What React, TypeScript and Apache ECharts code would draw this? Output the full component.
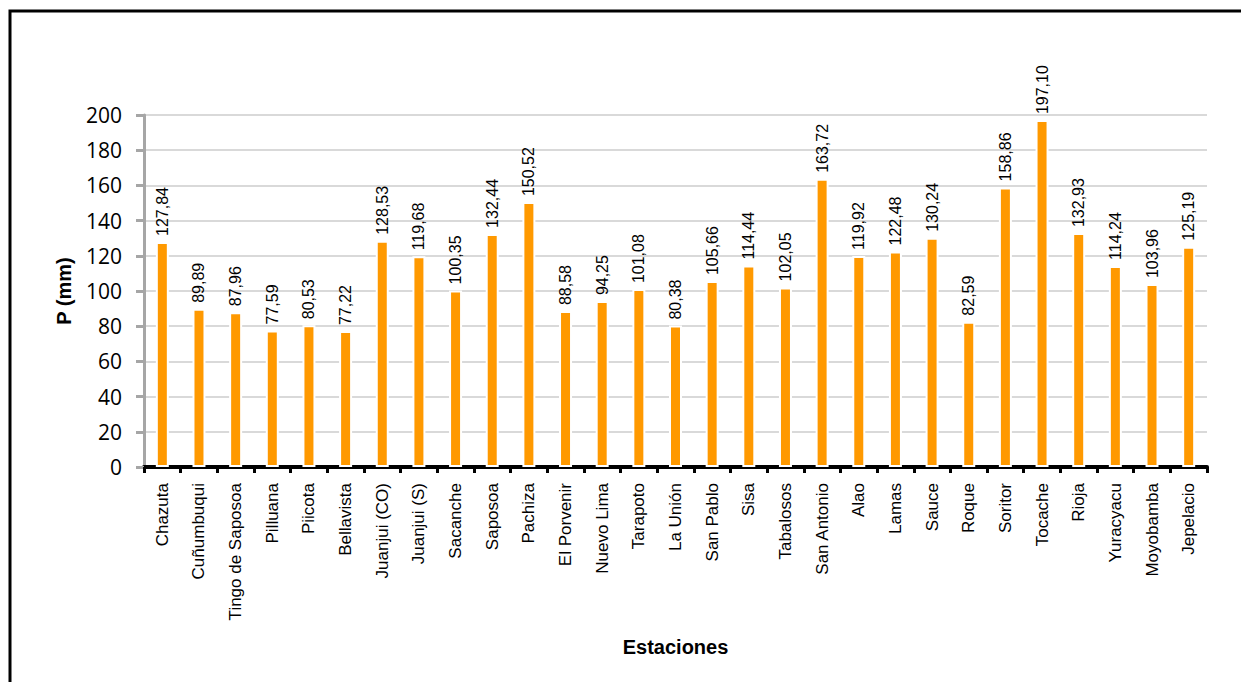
import React, { useEffect, useRef } from "react";
import * as echarts from "echarts";

const stations: string[] = [
  "Chazuta", "Cuñumbuqui", "Tingo de Saposoa", "Pilluana", "Piicota", "Bellavista",
  "Juanjui (CO)", "Juanjui (S)", "Sacanche", "Saposoa", "Pachiza", "El Porvenir",
  "Nuevo Lima", "Tarapoto", "La Unión", "San Pablo", "Sisa", "Tabalosos",
  "San Antonio", "Alao", "Lamas", "Sauce", "Roque", "Soritor", "Tocache",
  "Rioja", "Yuracyacu", "Moyobamba", "Jepelacio",
];

const precipitation: number[] = [
  127.84, 89.89, 87.96, 77.59, 80.53, 77.22,
  128.53, 119.68, 100.35, 132.44, 150.52, 88.58,
  94.25, 101.08, 80.38, 105.66, 114.44, 102.05,
  163.72, 119.92, 122.48, 130.24, 82.59, 158.86, 197.1,
  132.93, 114.24, 103.96, 125.19,
];

const yMin = 0;
const yMax = 200;
const yInterval = 20;

const ARIAL = "'Liberation Sans', Arial, sans-serif";

export default function App() {
  const ref = useRef<HTMLDivElement>(null);

  useEffect(() => {
    if (!ref.current) return;
    const chart = echarts.init(ref.current, undefined, { renderer: "svg" });
    chart.setOption({
      animation: false,
      backgroundColor: "#ffffff",
      graphic: [
        {
          type: "rect",
          shape: { x: 10, y: 11, width: 1400, height: 900 },
          style: { fill: "none", stroke: "#000000", lineWidth: 3 },
          silent: true,
        },
      ],
      grid: { left: 144, right: 34, top: 115, bottom: 215, containLabel: false },
      xAxis: {
        type: "category",
        data: stations,
        name: "Estaciones",
        nameLocation: "middle",
        nameGap: 170,
        nameTextStyle: {
          fontFamily: ARIAL,
          fontWeight: "bold",
          fontSize: 20,
          color: "#000",
        },
        axisLine: { show: true, lineStyle: { color: "#000", width: 4 } },
        axisTick: { show: true, length: 6, lineStyle: { color: "#000", width: 3 } },
        axisLabel: {
          rotate: 90,
          interval: 0,
          margin: 16,
          fontFamily: ARIAL,
          fontSize: 17,
          color: "#000",
        },
        splitLine: { show: false },
      },
      yAxis: {
        type: "value",
        min: yMin,
        max: yMax,
        interval: yInterval,
        name: "P (mm)",
        nameLocation: "middle",
        nameGap: 70,
        nameTextStyle: {
          fontFamily: ARIAL,
          fontWeight: "bold",
          fontSize: 20,
          color: "#000",
        },
        axisLine: { show: true, lineStyle: { color: "#A6A6A6", width: 3 } },
        axisTick: { show: true, length: 8, lineStyle: { color: "#A6A6A6", width: 3 } },
        axisLabel: {
          margin: 22,
          fontFamily: "'Open Sans', 'Noto Sans', sans-serif",
          fontSize: 21,
          color: "#000",
        },
        splitLine: { show: true, lineStyle: { color: "#D9D9D9", width: 2 } },
      },
      series: [
        {
          type: "bar",
          data: precipitation,
          barWidth: 13,
          itemStyle: { color: "#FF9900", borderColor: "#ffffff", borderWidth: 2 },
          label: {
            show: true,
            position: "top",
            rotate: 90,
            align: "left",
            verticalAlign: "middle",
            distance: 6,
            fontFamily: "'Liberation Sans Narrow', 'Liberation Sans', Arial, sans-serif",
            fontSize: 16,
            color: "#000",
            formatter: (p: any) => Number(p.value).toFixed(2).replace(".", ","),
          },
        },
      ],
    });
    return () => chart.dispose();
  }, []);

  return (
    <div
      ref={ref}
      style={{ position: "absolute", left: 0, top: 0, width: 1241, height: 682 }}
    />
  );
}
